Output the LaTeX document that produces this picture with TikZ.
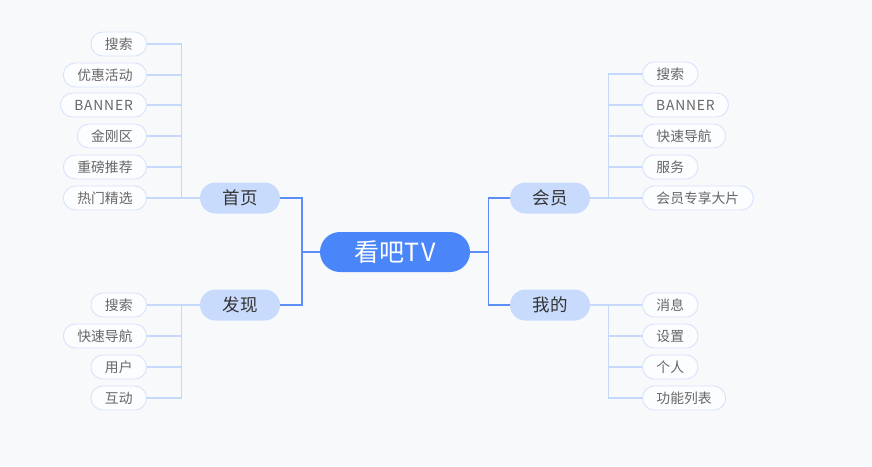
\documentclass[tikz,border=0pt]{standalone}
\usepackage{fontspec}
\setmainfont{Noto Sans CJK SC}
\definecolor{bg}{HTML}{F8F9FB}
\definecolor{rootfill}{HTML}{4A86FA}
\definecolor{mainfill}{HTML}{C9DBFC}
\definecolor{mainline}{HTML}{5B8FF7}
\definecolor{leafline}{HTML}{C6D9FB}
\definecolor{leafborder}{HTML}{D6E3FC}
\definecolor{leaffill}{HTML}{FCFDFF}
\definecolor{leaftext}{HTML}{666666}
\definecolor{maintext}{HTML}{333333}
\newcommand{\widelatin}[1]{{\addfontfeature{LetterSpace=6}#1}}
\tikzset{
  rootnode/.style={rounded corners=20pt, fill=rootfill, text=white, minimum width=150pt, minimum height=40pt, inner sep=0pt, font=\fontsize{25}{25}\selectfont},
  mainnode/.style={rounded corners=15.5pt, fill=mainfill, text=maintext, minimum width=80pt, minimum height=31pt, inner sep=0pt, font=\fontsize{17.5}{17.5}\selectfont},
  leafnode/.style={rounded corners=12pt, draw=leafborder, line width=0.9pt, fill=leaffill, text=leaftext, minimum height=24pt, inner ysep=0pt, inner xsep=14pt, font=\fontsize{13.8}{13.8}\selectfont},
  bannernode/.style={leafnode, inner xsep=0pt, minimum width=86pt},
  mainlink/.style={draw=mainline, line width=1.4pt},
  leaflink/.style={draw=leafline, line width=1.1pt},
}
\begin{document}
\begin{tikzpicture}[x=1pt,y=-1pt]
\fill[bg] (0,0) rectangle (872,466);
\useasboundingbox (0,0) rectangle (872,466);

\node[rootnode] (root) at (395,252) {看吧\widelatin{TV}};
\node[mainnode] (sy) at (240,198) {首页};
\node[mainnode] (fx) at (240,305) {发现};
\node[mainnode] (hy) at (550,198) {会员};
\node[mainnode] (wd) at (550,305) {我的};

\draw[mainlink] (root.west) -- ++(-18,0) |- (sy.east);
\draw[mainlink] (root.west) -- ++(-18,0) |- (fx.east);
\draw[mainlink] (root.east) -- ++(18,0) |- (hy.west);
\draw[mainlink] (root.east) -- ++(18,0) |- (wd.west);

% 首页 leaves
\node[leafnode, anchor=east] (a1) at (147,44) {搜索};
\node[leafnode, anchor=east] (a2) at (147,75) {优惠活动};
\node[bannernode, anchor=east] (a3) at (147,105) {\widelatin{BANNER}};
\node[leafnode, anchor=east] (a4) at (147,136) {金刚区};
\node[leafnode, anchor=east] (a5) at (147,167) {重磅推荐};
\node[leafnode, anchor=east] (a6) at (147,198) {热门精选};
\foreach \n in {a1,a2,a3,a4,a5,a6}
  \draw[leaflink] (sy.west) -- ++(-18,0) |- (\n.east);

% 发现 leaves
\node[leafnode, anchor=east] (b1) at (147,305) {搜索};
\node[leafnode, anchor=east] (b2) at (147,336) {快速导航};
\node[leafnode, anchor=east] (b3) at (147,367) {用户};
\node[leafnode, anchor=east] (b4) at (147,398) {互动};
\foreach \n in {b1,b2,b3,b4}
  \draw[leaflink] (fx.west) -- ++(-18,0) |- (\n.east);

% 会员 leaves
\node[leafnode, anchor=west] (c1) at (642,74) {搜索};
\node[bannernode, anchor=west] (c2) at (642,105) {\widelatin{BANNER}};
\node[leafnode, anchor=west] (c3) at (642,136) {快速导航};
\node[leafnode, anchor=west] (c4) at (642,167) {服务};
\node[leafnode, anchor=west] (c5) at (642,198) {会员专享大片};
\foreach \n in {c1,c2,c3,c4,c5}
  \draw[leaflink] (hy.east) -- ++(18,0) |- (\n.west);

% 我的 leaves
\node[leafnode, anchor=west] (d1) at (642,305) {消息};
\node[leafnode, anchor=west] (d2) at (642,336) {设置};
\node[leafnode, anchor=west] (d3) at (642,367) {个人};
\node[leafnode, anchor=west] (d4) at (642,398) {功能列表};
\foreach \n in {d1,d2,d3,d4}
  \draw[leaflink] (wd.east) -- ++(18,0) |- (\n.west);
\end{tikzpicture}
\end{document}
